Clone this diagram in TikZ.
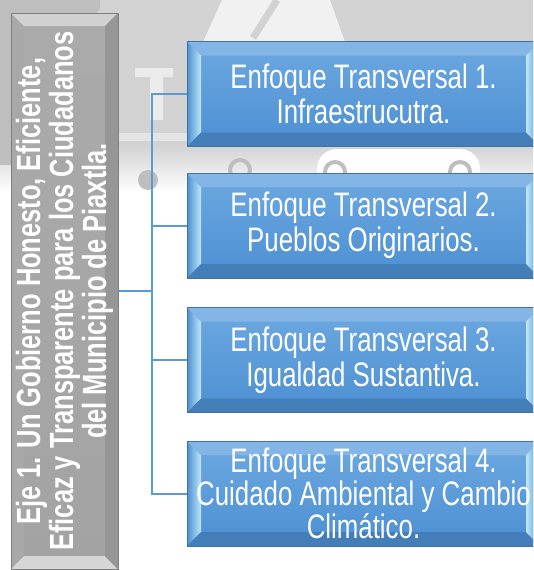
\documentclass[tikz,border=0pt]{standalone}
\usepackage{fontspec}
\setmainfont[FakeStretch=0.76]{Liberation Sans}
\usetikzlibrary{positioning}
\definecolor{wmgray}{HTML}{D2D2D2}
\definecolor{wmdark}{HTML}{BEBEBE}
\definecolor{ejegray}{HTML}{A3A3A3}
\definecolor{ejeline}{HTML}{7F7F7F}
\definecolor{enfblue}{HTML}{5B9BD5}
\definecolor{enftop}{HTML}{6DA9E1}
\definecolor{enfbot}{HTML}{4C8FD2}
\definecolor{enfline}{HTML}{41719C}
\definecolor{enflight}{HTML}{BFE7F9}
\newcommand{\bevelfaces}[5]{%
  \coordinate (sw) at (path picture bounding box.south west);
  \coordinate (ne) at (path picture bounding box.north east);
  \coordinate (isw) at ([shift={(#1,#1)}]sw);
  \coordinate (ine) at ([shift={(-#1,-#1)}]ne);
  \path[#2] (sw) -- (sw |- ne) -- (isw |- ine) -- (isw) -- cycle;
  \path[#3] (sw |- ne) -- (ne) -- (ine) -- (isw |- ine) -- cycle;
  \path[#4] (sw) -- (ne |- sw) -- (ine |- isw) -- (isw) -- cycle;
  \path[#5] (ne |- sw) -- (ne) -- (ine) -- (ine |- isw) -- cycle;
}
\tikzset{
  eje/.style={draw=ejeline,line width=1pt,inner sep=0pt,
    minimum width=107pt,minimum height=556pt,
    top color=ejegray!92!white,bottom color=ejegray,
    path picture={\bevelfaces{13pt}{fill=ejegray!95!white}{fill=ejegray!50!white}%
      {fill=ejegray!45!white}{fill=ejegray!92!black}}},
  ejetext/.style={rotate=90,align=center,text=white,inner sep=0pt,
    font=\fontsize{33.5}{33}\selectfont\bfseries},
  enfoque/.style={draw=enfline,line width=1pt,inner sep=0pt,align=center,
    minimum width=353pt,minimum height=105pt,text=white,
    top color=enftop,bottom color=enfbot,
    font=\fontsize{34}{35}\selectfont,
    path picture={\bevelfaces{14pt}{left color=enfbot,right color=enflight}%
      {fill=enftop!85!white}{fill=enfbot!88!black}{left color=enflight,right color=enfbot}}},
  rama/.style={draw=enfblue,line width=2pt}
}
\begin{document}
\begin{tikzpicture}[x=1pt,y=-1pt]
\useasboundingbox (0,0) rectangle (533,570);
\clip (0,0) rectangle (533,570);
% watermark
\fill[wmgray] (0,0) rectangle (533,145);
\shade[top color=wmgray,bottom color=white] (0,145) rectangle (533,192);
\fill[wmdark,rounded corners=8pt] (-10,-10) rectangle (100,14);
\fill[wmdark] (0,0) rectangle (12,165);
\fill[white!70!wmgray] (203,42) -- (222,0) -- (330,0) -- (345,42) -- cycle;
\draw[wmgray,line width=7pt] (277,0) -- (253,38);
\fill[white!55!wmgray] (135,68) rectangle (173,77) (150,68) rectangle (163,120);
\fill[white!40!wmgray] (118,133) rectangle (187,141);
\fill[white,rounded corners=20pt] (317,149) rectangle (480,200);
\draw[wmdark,line width=4pt] (335,172) circle (10) (460,172) circle (10) (240,170) circle (10);
\fill[wmdark] (148,180) circle (10);
%
\node (eje) [eje] at (64.5,291) {};
\node (ejetxt) [ejetext] at (eje.center) {Eje 1. Un Gobierno Honesto, Eficiente,\\
  Eficaz y Transparente para los Ciudadanos\\ del Municipio de Piaxtla.};
\node (enf1) [enfoque] at (363.5,94) {Enfoque Transversal 1.\\ Infraestrucutra.};
\node (enf2) [enfoque] at (363.5,225.5) {Enfoque Transversal 2.\\ Pueblos Originarios.};
\node (enf3) [enfoque] at (363.5,360) {Enfoque Transversal 3.\\ Igualdad Sustantiva.};
\node (enf4) [enfoque, font=\fontsize{34}{33}\selectfont] at (363.5,493.5) {Enfoque Transversal 4.\\
  Cuidado Ambiental y Cambio\\ Clim\'atico.};
%
\coordinate (bus) at (152,291);
\path[rama,line width=2.5pt] (eje.east) -- (bus);
\foreach \n in {1,...,4}
  \path[rama] (bus) |- (enf\n.west);
\end{tikzpicture}
\end{document}
